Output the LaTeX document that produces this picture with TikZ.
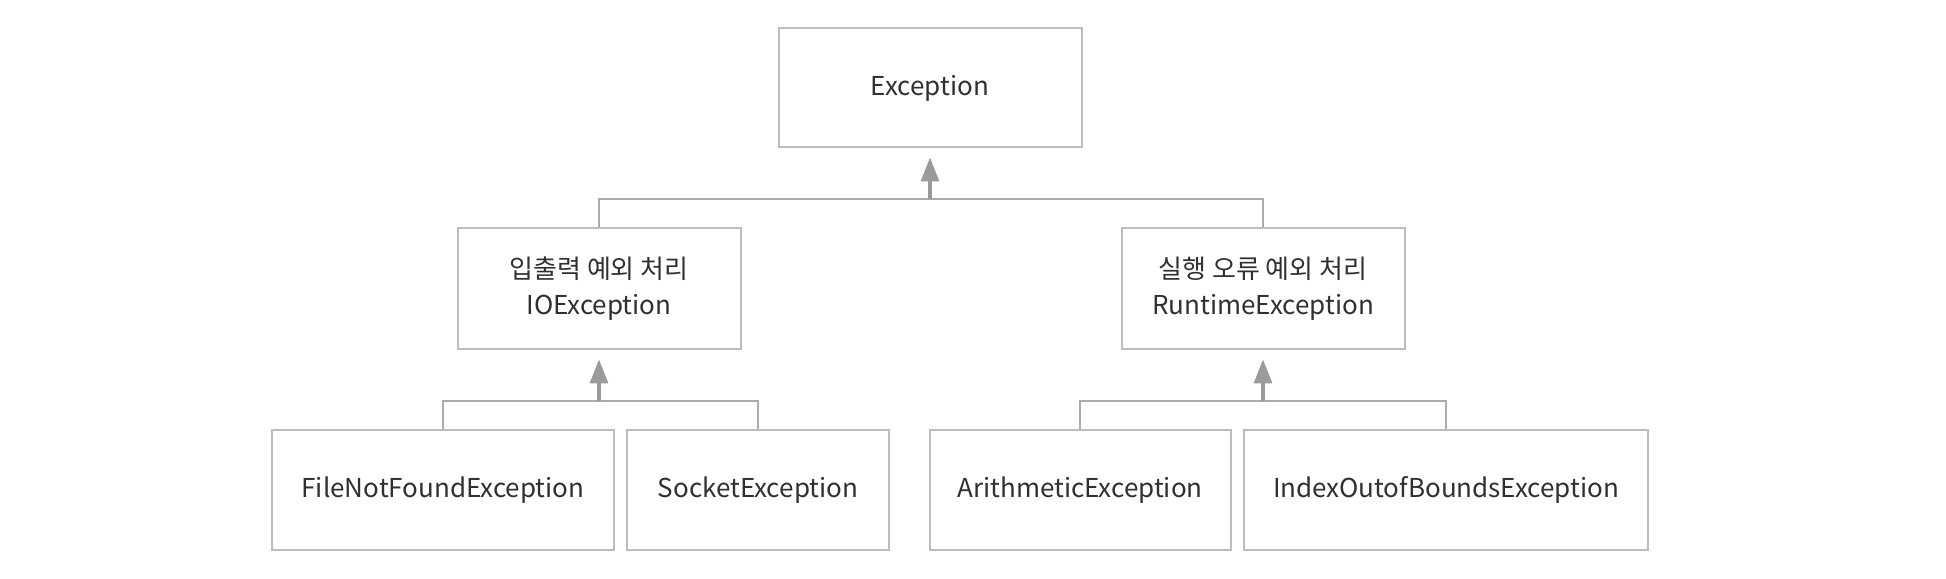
\documentclass[tikz,border=0pt]{standalone}
\usepackage{fontspec}
\setmainfont{Noto Sans CJK KR}
\usetikzlibrary{arrows.meta}
\definecolor{boxgray}{HTML}{BDBDBD}
\definecolor{linegray}{HTML}{ABABAB}
\definecolor{arrowgray}{HTML}{9A9A9A}
\definecolor{textgray}{HTML}{303030}
\tikzset{
  cls/.style={draw=boxgray, line width=1pt, text=textgray, align=center,
    font=\fontsize{13}{18}\selectfont, inner sep=0pt},
  link/.style={draw=linegray, line width=1pt},
  inherit/.style={draw=arrowgray, line width=1.6pt, shorten >=4.5pt,
    -{Triangle[length=12pt,width=9pt]}}
}
\begin{document}
\begin{tikzpicture}[x=0.5pt,y=0.5pt]
\useasboundingbox (0,0) rectangle (1946,578);
% classes
\node[cls, minimum width=151.5pt, minimum height=59.5pt] (exc) at (930,490) {Exception};
\node[cls, minimum width=141.5pt, minimum height=60.5pt] (io) at (599,289) {입출력 예외 처리\\IOException};
\node[cls, minimum width=141.5pt, minimum height=60.5pt] (rt) at (1263,289) {실행 오류 예외 처리\\RuntimeException};
\node[cls, minimum width=171pt, minimum height=59.5pt] (fnf) at (443,88) {FileNotFoundException};
\node[cls, minimum width=131pt, minimum height=59.5pt] (sock) at (758,88) {SocketException};
\node[cls, minimum width=150.5pt, minimum height=59.5pt] (arith) at (1080,88) {ArithmeticException};
\node[cls, minimum width=202pt, minimum height=59.5pt] (idx) at (1446,88) {IndexOutofBoundsException};
% bars
\coordinate (topbar) at (930,379);
\coordinate (iobar) at (599,177);
\coordinate (rtbar) at (1263,177);
\draw[link] (io.north) -- (io.north |- topbar) -- (rt.north |- topbar) -- (rt.north);
\draw[link] (fnf.north) -- (fnf.north |- iobar) -- (sock.north |- iobar) -- (sock.north);
\draw[link] (arith.north) -- (arith.north |- rtbar) -- (idx.north |- rtbar) -- (idx.north);
% arrows
\draw[inherit] (topbar) -- (exc.south);
\draw[inherit] (iobar) -- (io.south);
\draw[inherit] (rtbar) -- (rt.south);
\end{tikzpicture}
\end{document}
